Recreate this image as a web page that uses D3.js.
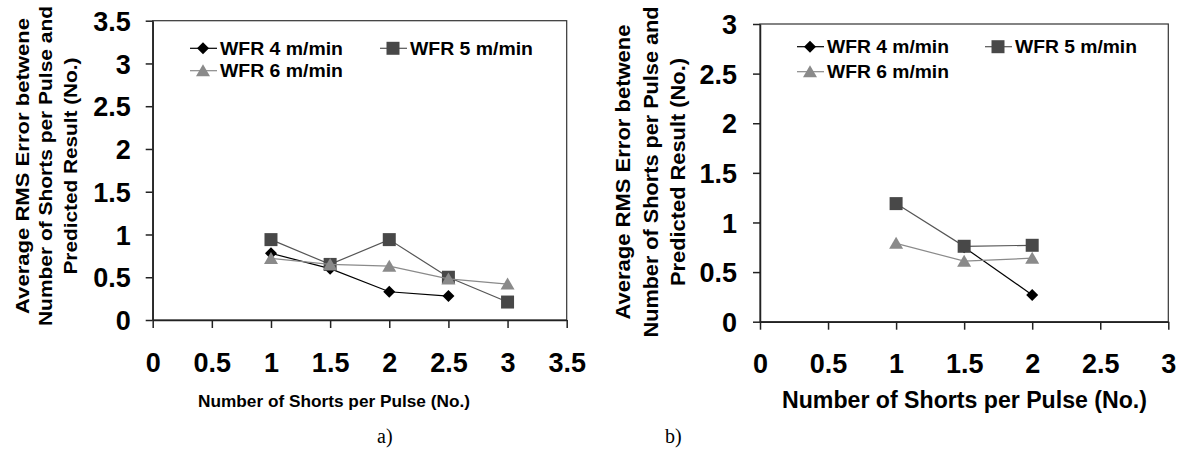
<!DOCTYPE html>
<html>
<head>
<meta charset="utf-8">
<script src="https://cdn.jsdelivr.net/npm/d3@7"></script>
<style>
  body { margin: 0; background: #fff; }
  text { font-family: "Liberation Sans", Arial, sans-serif; }
</style>
</head>
<body>
<div id="chart"></div>
<script>
// series names
var seriesNames = ["WFR 4 m/min", "WFR 5 m/min", "WFR 6 m/min"];

// panel a)
var aTicks = [0, 0.5, 1, 1.5, 2, 2.5, 3, 3.5];
var aX4 = [1, 1.5, 2, 2.5];
var aY4 = [0.78, 0.60, 0.33, 0.28];
var aX5 = [1, 1.5, 2, 2.5, 3];
var aY5 = [0.94, 0.65, 0.94, 0.50, 0.21];
var aX6 = [1, 1.5, 2, 2.5, 3];
var aY6 = [0.72, 0.65, 0.63, 0.48, 0.42];

// panel b)
var bTicks = [0, 0.5, 1, 1.5, 2, 2.5, 3];
var bX4 = [1.5, 2];
var bY4 = [0.75, 0.27];
var bX5 = [1, 1.5, 2];
var bY5 = [1.19, 0.76, 0.77];
var bX6 = [1, 1.5, 2];
var bY6 = [0.79, 0.61, 0.64];

var yTitle = ["Average RMS Error betwene", "Number of Shorts per Pulse and", "Predicted Result (No.)"];
var xTitle = "Number of Shorts per Pulse (No.)";

var svg = d3.select("#chart")
  .append("svg")
  .attr("width", 1182)
  .attr("height", 452);

var styles = [
  { line: "#000", fill: "#000", shape: "diamond" },
  { line: "#555", fill: "#484848", shape: "square" },
  { line: "#8a8a8a", fill: "#8a8a8a", shape: "triangle" }
];

function markerPath(shape) {
  if (shape == "diamond") return "M0,-6L6,0L0,6L-6,0Z";
  if (shape == "square") return "M-6.5,-6.5H6.5V6.5H-6.5Z";
  return "M0,-6.5L7,5.5L-7,5.5Z";
}

function drawPanel(p) {
  var x = d3.scaleLinear().domain(p.domain).range([p.left, p.right]);
  var y = d3.scaleLinear().domain(p.domain).range([p.bottom, p.top]);
  var g = svg.append("g");

  // frame
  g.append("rect")
    .attr("x", p.left).attr("y", p.top)
    .attr("width", p.right - p.left).attr("height", p.bottom - p.top)
    .attr("fill", "none").attr("stroke", "#333").attr("stroke-width", 1.2);

  // x axis
  var xa = g.append("g")
    .attr("transform", "translate(0," + p.bottom + ")")
    .call(d3.axisBottom(x).tickValues(p.ticks).tickSize(8).tickSizeOuter(0).tickFormat(d3.format("")));
  xa.select(".domain").attr("stroke", "#222").attr("stroke-width", 1.5);
  xa.selectAll(".tick line").attr("stroke", "#222").attr("stroke-width", 1.5);
  xa.selectAll("text")
    .attr("y", 42).attr("dy", "0.36em")
    .attr("fill", "#000")
    .style("font-size", "27px").style("font-weight", "bold")
    .style("font-family", "'Liberation Sans', Arial, sans-serif");

  // y axis
  var ya = g.append("g")
    .attr("transform", "translate(" + p.left + ",0)")
    .call(d3.axisLeft(y).tickValues(p.ticks).tickSize(7).tickSizeOuter(0).tickFormat(d3.format("")));
  ya.select(".domain").attr("stroke", "#222").attr("stroke-width", 1.5);
  ya.selectAll(".tick line").attr("stroke", "#222").attr("stroke-width", 1.5);
  ya.selectAll("text")
    .attr("x", p.yLabelX).attr("dy", "0.36em")
    .attr("fill", "#000")
    .style("font-size", "27px").style("font-weight", "bold")
    .style("font-family", "'Liberation Sans', Arial, sans-serif");

  // series
  p.series.forEach(function(s, i) {
    var pts = s.xs.map(function(v, j) { return [v, s.ys[j]]; });
    g.append("path")
      .attr("d", d3.line().x(function(d) { return x(d[0]); }).y(function(d) { return y(d[1]); })(pts))
      .attr("fill", "none")
      .attr("stroke", styles[i].line)
      .attr("stroke-width", 1.2);
    g.selectAll(".m" + i)
      .data(pts)
      .enter()
      .append("path")
      .attr("class", "m" + i)
      .attr("transform", function(d) { return "translate(" + x(d[0]) + "," + y(d[1]) + ")"; })
      .attr("d", markerPath(styles[i].shape))
      .attr("fill", styles[i].fill);
  });

  // legend
  p.legend.forEach(function(l, i) {
    g.append("line")
      .attr("x1", l.x).attr("x2", l.x + 27)
      .attr("y1", l.y).attr("y2", l.y)
      .attr("stroke", styles[i].line).attr("stroke-width", 1.2);
    g.append("path")
      .attr("transform", "translate(" + (l.x + 13) + "," + l.y + ")")
      .attr("d", markerPath(styles[i].shape))
      .attr("fill", styles[i].fill);
    g.append("text")
      .attr("x", l.x + 30).attr("y", l.y).attr("dy", "0.36em")
      .attr("textLength", p.legendLen).attr("lengthAdjust", "spacingAndGlyphs")
      .style("font-size", "18px").style("font-weight", "bold")
      .text(seriesNames[i]);
  });

  // x title
  g.append("text")
    .attr("x", p.xTitleX).attr("y", p.xTitleY).attr("dy", "0.36em")
    .attr("textLength", p.xTitleLen).attr("lengthAdjust", "spacingAndGlyphs")
    .style("font-size", p.xTitleSize + "px").style("font-weight", "bold")
    .text(xTitle);

  // y title
  yTitle.forEach(function(t, i) {
    g.append("text")
      .attr("text-anchor", "middle")
      .attr("transform", "translate(" + p.yTitleX[i] + "," + p.yTitleY + ") rotate(-90)")
      .attr("dy", "0.36em")
      .attr("textLength", p.yTitleLen[i]).attr("lengthAdjust", "spacingAndGlyphs")
      .style("font-size", p.yTitleSize + "px").style("font-weight", "bold")
      .text(t);
  });

  // caption
  svg.append("text")
    .attr("x", p.capX).attr("y", 443)
    .style("font-family", "'Liberation Serif', 'Times New Roman', serif")
    .style("font-size", "20px")
    .text(p.caption);
}

drawPanel({
  domain: [0, 3.5], ticks: aTicks,
  left: 152.7, right: 566.7, top: 20.7, bottom: 320,
  yLabelX: -22,
  series: [{ xs: aX4, ys: aY4 }, { xs: aX5, ys: aY5 }, { xs: aX6, ys: aY6 }],
  legend: [{ x: 190, y: 48.3 }, { x: 380, y: 48.3 }, { x: 190, y: 70.7 }],
  legendLen: 123,
  xTitleX: 198, xTitleY: 401, xTitleLen: 272, xTitleSize: 17,
  yTitleX: [21.7, 45.5, 70], yTitleY: 166, yTitleLen: [296, 320, 217], yTitleSize: 19,
  capX: 377, caption: "a)"
});

drawPanel({
  domain: [0, 3], ticks: bTicks,
  left: 760, right: 1168.3, top: 24, bottom: 321.7,
  yLabelX: -23,
  series: [{ xs: bX4, ys: bY4 }, { xs: bX5, ys: bY5 }, { xs: bX6, ys: bY6 }],
  legend: [{ x: 797, y: 46.7 }, { x: 985, y: 46.7 }, { x: 797, y: 71.7 }],
  legendLen: 122,
  xTitleX: 782, xTitleY: 400, xTitleLen: 365, xTitleSize: 23,
  yTitleX: [623, 650.5, 678], yTitleY: 172, yTitleLen: [295, 331, 228], yTitleSize: 20,
  capX: 665, caption: "b)"
});
</script>
</body>
</html>
